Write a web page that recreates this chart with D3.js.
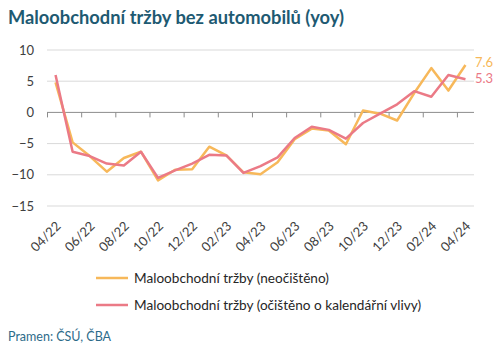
<!DOCTYPE html>
<html>
<head>
<meta charset="utf-8">
<script src="https://cdn.jsdelivr.net/npm/d3@7"></script>
<style>
  body { margin: 0; background: #fff; }
  svg { font-family: Lato, "Open Sans", sans-serif; }
</style>
</head>
<body>
<svg id="chart" width="500" height="351"></svg>
<script>
var months = ["04/22","05/22","06/22","07/22","08/22","09/22","10/22","11/22","12/22","01/23","02/23","03/23",
  "04/23","05/23","06/23","07/23","08/23","09/23","10/23","11/23","12/23","01/24","02/24","03/24","04/24"];
var raw = [4.8,-4.8,-7.0,-9.5,-7.3,-6.3,-10.9,-9.2,-9.1,-5.5,-6.9,-9.6,
  -9.9,-8.0,-4.3,-2.6,-2.9,-5.1,0.3,-0.2,-1.3,3.1,7.1,3.5,7.6];
var adjusted = [6.0,-6.3,-7.0,-8.2,-8.5,-6.3,-10.5,-9.3,-8.2,-6.8,-6.9,-9.7,
  -8.6,-7.2,-4.1,-2.3,-2.8,-4.2,-1.7,-0.2,1.3,3.4,2.5,6.0,5.3];
var yTicks = [10, 5, 0, -5, -10, -15];
var seriesNames = ["Maloobchodní tržby (neočištěno)", "Maloobchodní tržby (očištěno o kalendářní vlivy)"];
var colors = ["#F7B85A", "#EB7A86"];

var svg = d3.select("#chart");
var padL = 47, padR = 474, padT = 50, padB = 206;

svg.append("text")
  .attr("x", 8).attr("y", 24)
  .attr("font-size", 18.3).attr("font-weight", "bold")
  .attr("fill", "#1E5A72")
  .text("Maloobchodní tržby bez automobilů (yoy)");

var x = d3.scaleBand().domain(months).range([padL, padR]).padding(0);
var y = d3.scaleLinear().domain([-15, 10]).range([padB, padT]);
var xb = d3.scaleLinear().domain([0, months.length]).range([padL, padR]);

// grid
svg.append("g").selectAll("line")
  .data(yTicks.filter(d => d != 0))
  .enter().append("line")
  .attr("x1", padL).attr("x2", padR)
  .attr("y1", d => y(d)).attr("y2", d => y(d))
  .attr("stroke", "#d9d9d9").attr("stroke-width", 1);

var yAxis = svg.append("g")
  .attr("transform", "translate(" + padL + ",0)")
  .call(d3.axisLeft(y).tickValues(yTicks).tickSize(0).tickPadding(13));
yAxis.select(".domain").remove();
yAxis.selectAll("text").attr("font-size", 13).attr("fill", "#404040").attr("font-family", "Lato");

// zero axis with ticks between category pairs
var xAxis = svg.append("g")
  .attr("transform", "translate(0," + y(0) + ")")
  .call(d3.axisBottom(xb).tickValues(d3.range(0, months.length, 2)).tickSize(5).tickFormat(""));
xAxis.select(".domain").attr("stroke", "#8c8c8c").attr("d", "M" + padL + ",0H" + padR);
xAxis.selectAll(".tick line").attr("stroke", "#8c8c8c");

// rotated labels
svg.append("g").selectAll("text")
  .data(months.filter((d, i) => i % 2 == 0))
  .enter().append("text")
  .attr("transform", d => "translate(" + (x(d) + x.bandwidth() / 2 + 6) + "," + (padB + 21) + ") rotate(-45)")
  .attr("text-anchor", "end")
  .attr("font-size", 13).attr("fill", "#404040")
  .text(d => d);

var line = d3.line()
  .x((d, i) => x(months[i]) + x.bandwidth() / 2)
  .y(d => y(d));

[raw, adjusted].forEach(function (s, k) {
  svg.append("path")
    .datum(s)
    .attr("d", line)
    .attr("fill", "none")
    .attr("stroke", colors[k])
    .attr("stroke-width", 2.5)
    .attr("stroke-linejoin", "round");
});

// end labels
var last = months.length - 1;
[raw, adjusted].forEach(function (s, k) {
  svg.append("text")
    .attr("x", padR + 1)
    .attr("y", y(s[last]) + (k == 0 ? 2 : 4))
    .attr("font-size", 13).attr("fill", colors[k])
    .text(s[last].toFixed(1));
});

// legend
seriesNames.forEach(function (n, k) {
  var ly = 278 + k * 27;
  svg.append("line")
    .attr("x1", 96).attr("x2", 128)
    .attr("y1", ly).attr("y2", ly)
    .attr("stroke", colors[k]).attr("stroke-width", 2.5);
  svg.append("text")
    .attr("x", 134).attr("y", ly + 5)
    .attr("font-size", 13.6).attr("fill", "#262626")
    .text(n);
});

svg.append("text")
  .attr("x", 8).attr("y", 341)
  .attr("font-size", 12.5).attr("fill", "#2D6B8A")
  .text("Pramen: ČSÚ, ČBA");
</script>
</body>
</html>
